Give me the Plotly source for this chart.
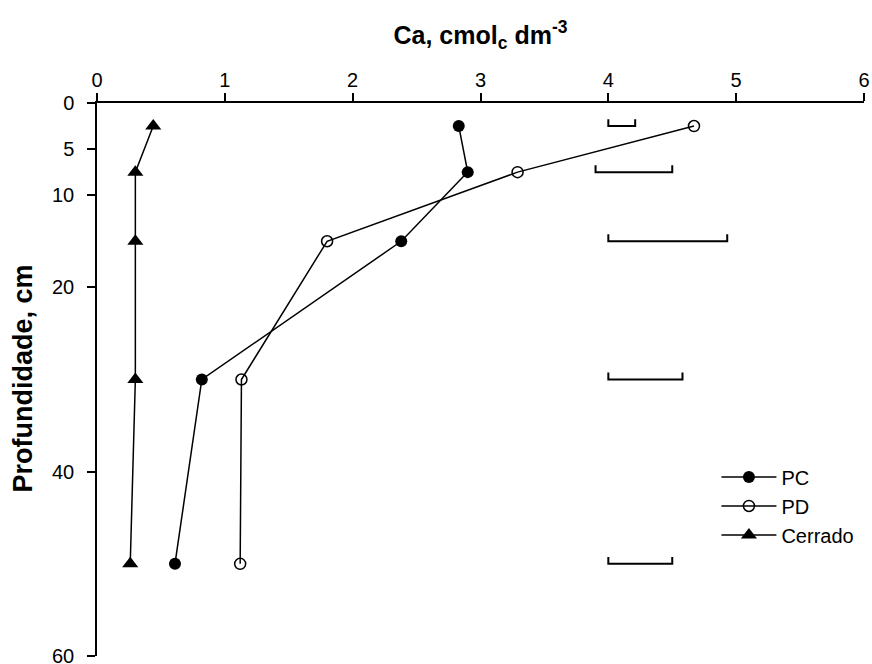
import plotly.graph_objects as go

# ---- data ----
depth = [2.5, 7.5, 15, 30, 50]
pc = [2.83, 2.90, 2.38, 0.82, 0.61]
pd_ = [4.67, 3.29, 1.80, 1.13, 1.12]
cerrado = [0.44, 0.30, 0.30, 0.30, 0.26]
lsd_start = [4.00, 3.90, 4.00, 4.00, 4.00]
lsd_end = [4.21, 4.50, 4.93, 4.58, 4.50]
x_ticks = [0, 1, 2, 3, 4, 5, 6]
y_ticks = [0, 5, 10, 20, 40, 60]

FONT = "Liberation Sans, Arial, sans-serif"
BLACK = "#000000"
TICK_H = 0.75  # height of LSD bar end ticks (depth units)

fig = go.Figure()

fig.add_trace(go.Scatter(
    x=pc, y=depth, mode="lines+markers", name="PC",
    line=dict(color=BLACK, width=1.5),
    marker=dict(symbol="circle", size=12, color=BLACK),
))
fig.add_trace(go.Scatter(
    x=pd_, y=depth, mode="lines+markers", name="PD",
    line=dict(color=BLACK, width=1.5),
    marker=dict(symbol="circle-open", size=11, color=BLACK, line=dict(width=1.5)),
))
fig.add_trace(go.Scatter(
    x=cerrado, y=depth, mode="lines+markers", name="Cerrado",
    line=dict(color=BLACK, width=1.5),
    marker=dict(symbol="triangle-up", size=14, color=BLACK),
))

# LSD bars
bx, by = [], []
for d, s, e in zip(depth, lsd_start, lsd_end):
    bx += [s, s, e, e, None]
    by += [d - TICK_H, d, d, d - TICK_H, None]
fig.add_trace(go.Scatter(
    x=bx, y=by, mode="lines", showlegend=False, hoverinfo="skip",
    line=dict(color=BLACK, width=2),
))

fig.update_layout(
    width=872, height=664,
    margin=dict(l=97, r=8, t=103, b=8, autoexpand=False),
    paper_bgcolor="white", plot_bgcolor="white",
    font=dict(family=FONT, size=20, color=BLACK),
    title=dict(
        text="<b>Ca, cmol<sub>c</sub> dm<sup>-3</sup></b>",
        x=0.5, xref="paper", xanchor="center",
        y=1 - 35 / 664, yref="container", yanchor="middle",
        font=dict(family=FONT, size=25, color=BLACK),
    ),
    legend=dict(
        x=0.8076, y=0.359, xanchor="left", yanchor="top",
        bgcolor="rgba(0,0,0,0)", borderwidth=0,
        font=dict(family=FONT, size=20, color=BLACK),
        itemwidth=55,
    ),
    showlegend=True,
    annotations=[dict(
        text="<b>Profundidade, cm</b>", textangle=-90,
        x=0, xref="paper", xanchor="center", xshift=-74,
        y=0.502, yref="paper", yanchor="middle",
        showarrow=False, font=dict(family=FONT, size=27, color=BLACK),
    )],
)

fig.update_xaxes(
    side="top", range=[0, 6], tickvals=x_ticks,
    ticks="outside", ticklen=8, tickwidth=1.5, tickcolor=BLACK,
    showline=True, linecolor=BLACK, linewidth=1.5,
    showgrid=False, zeroline=False, ticklabelstandoff=-2,
    ticklabeloverflow="allow",
    tickfont=dict(family=FONT, size=20, color=BLACK),
)
fig.update_yaxes(
    range=[60, 0], tickvals=y_ticks,
    ticks="outside", ticklen=8, tickwidth=1.5, tickcolor=BLACK,
    showline=True, linecolor=BLACK, linewidth=1.5,
    showgrid=False, zeroline=False, ticklabelstandoff=9,
    ticklabeloverflow="allow",
    tickfont=dict(family=FONT, size=20, color=BLACK),
)

# remove the browser's default page margin so the figure fills the window
fig.write_html(
    "out.html",
    config={"displayModeBar": False},
    post_script="document.body.style.margin='0';",
)
